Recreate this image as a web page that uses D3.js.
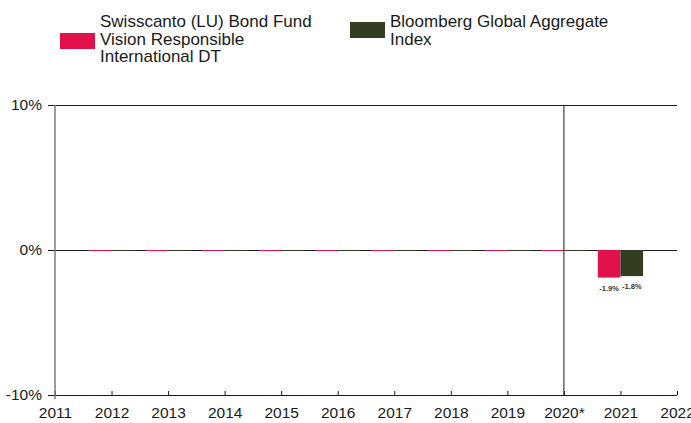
<!DOCTYPE html>
<html lang="en">

<head>
    <meta charset="utf-8">
    <script src="https://d3js.org/d3.v7.min.js"></script>
    <style>
        body { margin: 0; background: #fff; }
        text { font-family: "Liberation Sans", Arial, sans-serif; }
    </style>
</head>

<body>
    <script>
        // chart values
        const years = [2012, 2013, 2014, 2015, 2016, 2017, 2018, 2019, 2020, 2021];
        const fundValues = [0, 0, 0, 0, 0, 0, 0, 0, 0, -1.9];
        const indexValues = [0, 0, 0, 0, 0, 0, 0, 0, 0, -1.8];
        const seriesNames = [
            ["Swisscanto (LU) Bond Fund", "Vision Responsible", "International DT"],
            ["Bloomberg Global Aggregate", "Index"]
        ];
        const tickYears = [2011, 2012, 2013, 2014, 2015, 2016, 2017, 2018, 2019, 2020, 2021, 2022];
        const yTicks = [-10, 0, 10];
        const colors = ["#e2114b", "#333d22"];

        const width = 691;
        const height = 423;
        const plotL = 55, plotR = 677, plotT = 105, plotB = 395;

        const svg = d3.select("body")
            .append("svg")
            .attr("width", width)
            .attr("height", height);

        const x = d3.scaleLinear().domain([2011, 2022]).range([plotL, plotR]);
        const y = d3.scaleLinear().domain([-10, 10]).range([plotB, plotT]);
        const barW = (x(2012) - x(2011)) * 0.4;

        // horizontal grid lines + y labels (one axis placed at the right edge)
        const yAxis = svg.append("g")
            .attr("transform", "translate(" + plotR + ",0)")
            .call(d3.axisLeft(y).tickValues(yTicks).tickSize(plotR - 48).tickPadding(6)
                .tickFormat(d => d + "%"));
        yAxis.select(".domain").remove();
        yAxis.selectAll("line").attr("stroke", "#1a1a1a");
        yAxis.selectAll("text").style("font-size", "15.5px").attr("fill", "#1a1a1a");

        // x axis
        const xAxis = svg.append("g")
            .attr("transform", "translate(0," + plotB + ")")
            .call(d3.axisBottom(x).tickValues(tickYears).tickSize(-4).tickPadding(12)
                .tickFormat(d => d === 2020 ? "2020*" : String(d)));
        xAxis.select(".domain").remove();
        xAxis.selectAll("line").attr("stroke", "#1a1a1a");
        xAxis.selectAll("text").style("font-size", "15.5px").attr("fill", "#1a1a1a");

        // left axis line
        svg.append("line")
            .attr("x1", plotL).attr("x2", plotL)
            .attr("y1", plotT).attr("y2", plotB + 4)
            .attr("stroke", "#7a7a7a").attr("stroke-width", 1.5);

        // separator at 2020*
        svg.append("line")
            .attr("x1", x(2020)).attr("x2", x(2020))
            .attr("y1", plotT).attr("y2", plotB)
            .attr("stroke", "#1a1a1a");

        // bars (zero years show as a thin coloured strip on the 0% line)
        const series = [fundValues, indexValues];
        series.forEach((vals, s) => {
            svg.append("g").selectAll("rect")
                .data(years.map((yr, i) => ({ yr: yr, v: vals[i] })))
                .enter()
                .append("rect")
                .attr("x", d => x(d.yr) - barW + s * barW)
                .attr("y", d => d.v === 0 ? y(0) : Math.min(y(0), y(d.v)))
                .attr("width", barW)
                .attr("height", d => d.v === 0 ? 1 : Math.abs(y(d.v) - y(0)))
                .attr("fill", colors[s]);

            // value labels
            svg.append("g").selectAll("text")
                .data(years.map((yr, i) => ({ yr: yr, v: vals[i] })).filter(d => d.v !== 0))
                .enter()
                .append("text")
                .attr("x", d => x(d.yr) - barW / 2 + s * barW)
                .attr("y", d => y(d.v) + 13)
                .attr("text-anchor", "middle")
                .style("font-size", "7.5px")
                .style("font-weight", "bold")
                .attr("fill", "#333")
                .text(d => d.v.toFixed(1) + "%");
        });

        // legend
        const legendPos = [
            { rx: 60, ry: 33, tx: 100, ty: 27 },
            { rx: 350, ry: 22, tx: 390, ty: 27 }
        ];
        seriesNames.forEach((lines, s) => {
            const p = legendPos[s];
            svg.append("rect")
                .attr("x", p.rx).attr("y", p.ry)
                .attr("width", 35).attr("height", 16)
                .attr("fill", colors[s]);
            const t = svg.append("text")
                .attr("x", p.tx).attr("y", p.ty)
                .style("font-size", "17px")
                .attr("fill", "#1a1a1a");
            lines.forEach((l, i) => {
                t.append("tspan").attr("x", p.tx).attr("dy", i === 0 ? 0 : 17.5).text(l);
            });
        });
    </script>
</body>

</html>
